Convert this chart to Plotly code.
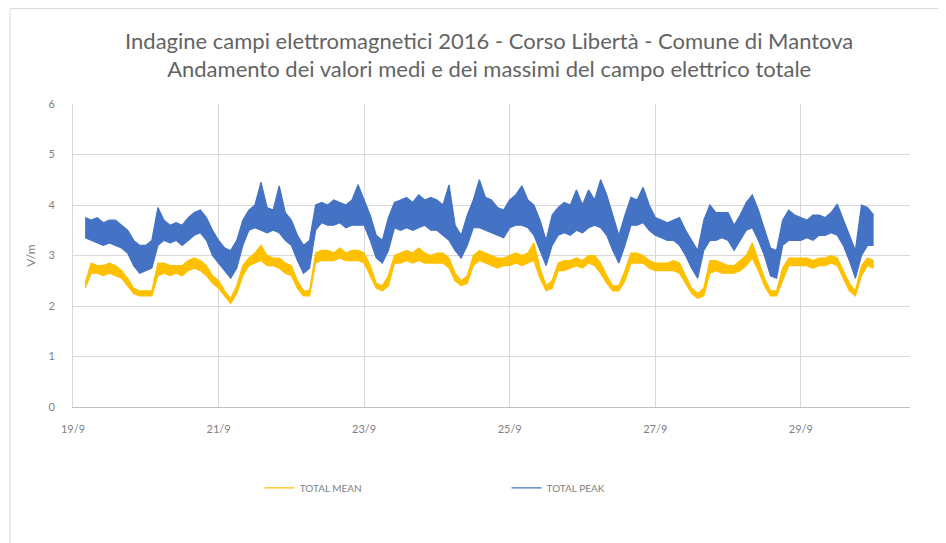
import pandas as pd
import plotly.graph_objects as go

# ---- data, 2-hour slots from 19/9 04:00 ----
START = "2016-09-19 04:00"
STEP_HOURS = 2

# TOTAL PEAK: lower and upper edge of the band in each 2-hour slot (V/m)
PEAK_LO = [
    3.35, 3.3, 3.25, 3.2, 3.25, 3.2, 3.15, 3.05, 2.8, 2.65,                  # 19/9
    2.7, 2.75, 3.2, 3.3, 3.25, 3.3, 3.2, 3.3, 3.4, 3.45, 3.3, 3.0,           # 20/9
    2.85, 2.7, 2.55, 2.75, 3.2, 3.5, 3.55, 3.5, 3.45, 3.5, 3.45, 3.3,        # 21/9
    3.2, 2.9, 2.65, 2.75, 3.5, 3.65, 3.6, 3.6, 3.65, 3.55, 3.6, 3.6,         # 22/9
    3.6, 3.3, 2.95, 2.85, 3.1, 3.55, 3.5, 3.55, 3.5, 3.55, 3.6, 3.5,         # 23/9
    3.5, 3.4, 3.3, 3.1, 2.95, 3.2, 3.55, 3.55, 3.5, 3.45, 3.4, 3.35,         # 24/9
    3.55, 3.6, 3.6, 3.55, 3.4, 3.1, 2.8, 3.2, 3.4, 3.45, 3.4, 3.5,           # 25/9
    3.45, 3.55, 3.6, 3.55, 3.4, 3.1, 2.85, 3.2, 3.6, 3.6, 3.65, 3.5,         # 26/9
    3.4, 3.35, 3.3, 3.3, 3.2, 3.0, 2.75, 2.55, 3.1, 3.3, 3.3, 3.35,          # 27/9
    3.3, 3.1, 3.3, 3.5, 3.55, 3.3, 3.0, 2.6, 2.55, 3.2, 3.3, 3.3,            # 28/9
    3.3, 3.35, 3.3, 3.4, 3.4, 3.45, 3.4, 3.2, 2.9, 2.55, 3.0, 3.2,           # 29/9
    3.2,                                                                     # 30/9
]
PEAK_HI = [
    3.75, 3.7, 3.75, 3.65, 3.7, 3.7, 3.6, 3.5, 3.3, 3.2,
    3.2, 3.3, 3.95, 3.7, 3.6, 3.65, 3.6, 3.75, 3.85, 3.9, 3.75, 3.5,
    3.3, 3.15, 3.1, 3.3, 3.7, 3.9, 4.0, 4.45, 3.95, 3.9, 4.38, 3.85,
    3.7, 3.4, 3.2, 3.3, 4.0, 4.05, 4.0, 4.1, 4.05, 4.0, 4.1, 4.4,
    4.1, 3.8, 3.4, 3.3, 3.75, 4.05, 4.1, 4.15, 4.05, 4.2, 4.1, 4.15,
    4.1, 4.0, 4.4, 3.6, 3.4, 3.8, 4.1, 4.5, 4.15, 4.1, 3.95, 3.9,
    4.1, 4.2, 4.38, 4.1, 4.0, 3.7, 3.3, 3.8, 3.95, 4.05, 4.0, 4.3,
    4.0, 4.3, 4.1, 4.5, 4.2, 3.8, 3.4, 3.8, 4.15, 4.1, 4.35, 4.0,
    3.75, 3.7, 3.65, 3.7, 3.75, 3.5, 3.3, 3.1, 3.7, 4.0, 3.85, 3.85,
    3.85, 3.6, 3.8, 4.05, 4.2, 3.9, 3.5, 3.15, 3.1, 3.7, 3.9, 3.8,
    3.75, 3.7, 3.8, 3.8, 3.75, 3.85, 4.02, 3.7, 3.4, 3.1, 4.0, 3.95,
    3.8,
]

# TOTAL MEAN: lower and upper edge of the band in each 2-hour slot (V/m)
MEAN_LO = [
    2.35, 2.65, 2.65, 2.6, 2.65, 2.6, 2.55, 2.4, 2.25, 2.2,
    2.2, 2.2, 2.6, 2.65, 2.6, 2.65, 2.6, 2.7, 2.75, 2.7, 2.6, 2.45,
    2.35, 2.2, 2.05, 2.25, 2.6, 2.8, 2.85, 2.9, 2.8, 2.8, 2.75, 2.65,
    2.6, 2.35, 2.2, 2.2, 2.85, 2.9, 2.9, 2.9, 2.95, 2.9, 2.9, 2.9,
    2.85, 2.6, 2.35, 2.3, 2.4, 2.85, 2.85, 2.9, 2.85, 2.9, 2.85, 2.85,
    2.85, 2.85, 2.75, 2.5, 2.4, 2.45, 2.8, 2.9, 2.85, 2.8, 2.75, 2.8,
    2.8, 2.85, 2.8, 2.85, 2.9, 2.55, 2.3, 2.35, 2.7, 2.7, 2.75, 2.8,
    2.75, 2.85, 2.8, 2.65, 2.45, 2.3, 2.3, 2.5, 2.85, 2.85, 2.85, 2.75,
    2.7, 2.7, 2.7, 2.7, 2.65, 2.45, 2.25, 2.15, 2.2, 2.65, 2.7, 2.65,
    2.65, 2.65, 2.7, 2.8, 2.95, 2.7, 2.4, 2.2, 2.2, 2.5, 2.8, 2.8,
    2.8, 2.8, 2.75, 2.8, 2.8, 2.85, 2.8, 2.55, 2.3, 2.2, 2.6, 2.8,
    2.75,
]
MEAN_HI = [
    2.45, 2.85, 2.8, 2.8, 2.85, 2.8, 2.7, 2.55, 2.35, 2.3,
    2.3, 2.3, 2.85, 2.85, 2.8, 2.8, 2.8, 2.9, 2.95, 2.9, 2.8, 2.6,
    2.5, 2.3, 2.15, 2.4, 2.8, 2.95, 3.05, 3.2, 3.0, 2.95, 2.95, 2.85,
    2.8, 2.5, 2.3, 2.3, 3.05, 3.1, 3.1, 3.05, 3.15, 3.05, 3.1, 3.1,
    3.05, 2.8, 2.45, 2.4, 2.6, 3.0, 3.05, 3.1, 3.05, 3.15, 3.05, 3.0,
    3.05, 3.05, 2.95, 2.65, 2.5, 2.6, 3.0, 3.1, 3.05, 3.0, 2.95, 2.95,
    3.0, 3.05, 3.0, 3.05, 3.25, 2.75, 2.4, 2.5, 2.85, 2.9, 2.9, 2.95,
    2.9, 3.0, 3.0, 2.85, 2.6, 2.4, 2.4, 2.7, 3.05, 3.05, 3.0, 2.9,
    2.85, 2.85, 2.85, 2.9, 2.85, 2.6, 2.35, 2.25, 2.35, 2.9, 2.9, 2.85,
    2.8, 2.8, 2.9, 3.0, 3.25, 2.9, 2.55, 2.3, 2.3, 2.75, 2.95, 2.95,
    2.95, 2.95, 2.9, 2.95, 2.95, 3.0, 2.95, 2.7, 2.45, 2.3, 2.8, 2.95,
    2.9,
]

TICK_DATES = ["2016-09-19", "2016-09-21", "2016-09-23", "2016-09-25", "2016-09-27", "2016-09-29"]
TICK_LABELS = ["19/9", "21/9", "23/9", "25/9", "27/9", "29/9"]
X_RANGE = ["2016-09-19 00:00", "2016-09-30 12:00"]

TITLE = ("Indagine campi elettromagnetici 2016 - Corso Libertà - Comune di Mantova<br>"
         "Andamento dei valori medi e dei massimi del campo elettrico totale")

MEAN_COLOR = "#FFC000"
PEAK_COLOR = "#4472C4"

times = pd.date_range(START, periods=len(PEAK_LO), freq=f"{STEP_HOURS}h")

FONT = "Lato, 'Open Sans', sans-serif"
GREY = "#7f7f7f"

fig = go.Figure()


def add_band(lo, hi, name, color, legend):
    # lower edge carries the legend entry (a plain line symbol)
    fig.add_trace(go.Scatter(x=times, y=lo, mode="lines", name=name,
                             line=dict(color=color, width=1.2), legend=legend,
                             showlegend=True))
    # upper edge, filled down to the lower edge -> dense band like the original
    fig.add_trace(go.Scatter(x=times, y=hi, mode="lines", name=name,
                             line=dict(color=color, width=1.2), fill="tonexty",
                             fillcolor=color, showlegend=False, legend=legend))


add_band(MEAN_LO, MEAN_HI, "TOTAL MEAN", MEAN_COLOR, "legend")
add_band(PEAK_LO, PEAK_HI, "TOTAL PEAK", PEAK_COLOR, "legend2")

# the page body has an 8px margin, so the figure is a bit smaller than the window
W, H = 938, 535
L, R, T, B = 65, 36, 96, 136
PW, PH = W - L - R, H - T - B

fig.update_layout(
    width=W, height=H,
    margin=dict(l=L, r=R, t=T, b=B),
    showlegend=True,
    paper_bgcolor="white", plot_bgcolor="white",
    font=dict(family=FONT, color=GREY, size=11),
    title=dict(text=TITLE, x=0.513, xanchor="center", y=0.924, yanchor="middle",
               yref="container",
               font=dict(family=FONT, size=22, color="#636363")),
    xaxis=dict(type="date", range=X_RANGE, tickvals=TICK_DATES, ticktext=TICK_LABELS,
               showgrid=True, gridcolor="#d9d9d9", gridwidth=1,
               showline=True, linecolor="#bfbfbf", linewidth=1,
               zeroline=False, ticks="", ticklabelstandoff=12,
               tickfont=dict(size=11, color=GREY)),
    yaxis=dict(range=[0, 6], dtick=1, showgrid=True, gridcolor="#d9d9d9", gridwidth=1,
               zeroline=False, showline=True, linecolor="#d9d9d9", linewidth=1,
               ticks="", ticklabelstandoff=15,
               tickfont=dict(size=11, color=GREY),
               title=dict(text="V/m", font=dict(size=12, color=GREY), standoff=10)),
    legend=dict(orientation="h", x=0.223, xanchor="left", y=-0.267, yanchor="middle",
                font=dict(size=10, color=GREY), bgcolor="rgba(0,0,0,0)", itemwidth=30),
    legend2=dict(orientation="h", x=0.518, xanchor="left", y=-0.267, yanchor="middle",
                 font=dict(size=10, color=GREY), bgcolor="rgba(0,0,0,0)", itemwidth=30),
    shapes=[dict(type="rect", xref="paper", yref="paper",
                 x0=(2 - L) / PW, x1=(W + 6 - L) / PW,
                 y0=(T + PH - (H + 6)) / PH, y1=(T + PH - 0.5) / PH,
                 line=dict(color="#d9d9d9", width=1), layer="below")],
)

fig.write_html("out.html")
